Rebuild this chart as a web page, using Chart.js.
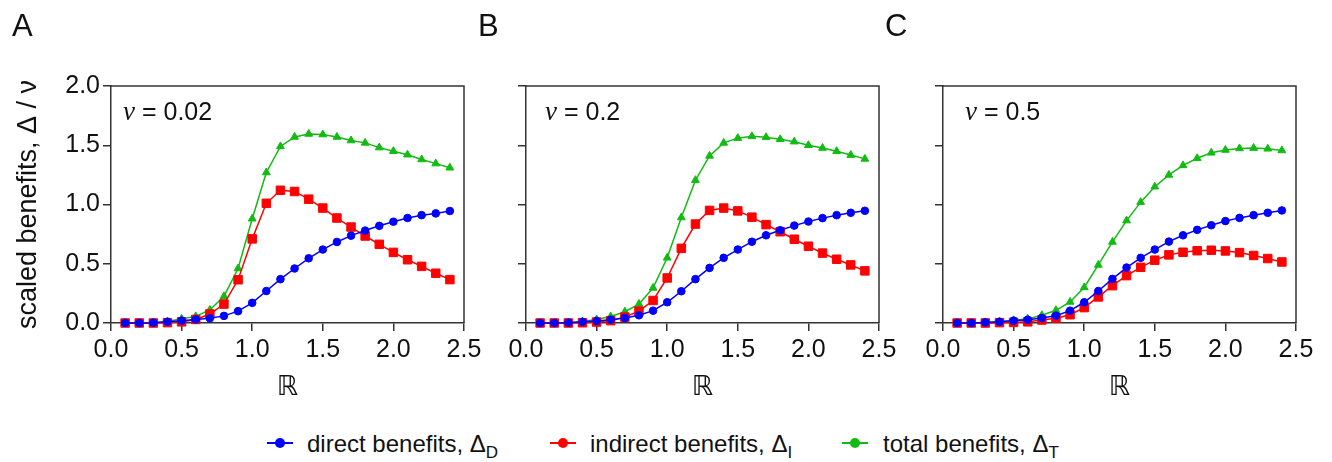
<!DOCTYPE html>
<html>
<head>
<meta charset="utf-8">
<script src="https://cdn.jsdelivr.net/npm/chart.js@4.4.0/dist/chart.umd.min.js"></script>
<style>
  body { margin: 0; width: 1332px; height: 462px; background: #fff; position: relative; overflow: hidden;
         font-family: "Liberation Sans", Arial, sans-serif; color: #111; }
  .panel { position: absolute; top: 0; }
  .letter { position: absolute; top: 10px; font-size: 31px; line-height: 31px; }
  .nu { position: absolute; top: 99px; font-size: 25px; line-height: 25px; white-space: nowrap; }
  .nu i { font-family: "Liberation Serif", serif; font-size: 27px; }
  .leg { position: absolute; top: 432px; font-size: 24px; line-height: 24px; white-space: nowrap; }
  .leg sub { font-size: 17px; vertical-align: -6px; line-height: 0; }
  .sw { position: absolute; top: 442px; width: 26px; height: 2px; }
  .sw::after { content: ""; position: absolute; left: 8px; top: -4px; width: 10px; height: 10px; border-radius: 50%; background: inherit; }
</style>
</head>
<body>
<canvas id="chartA" class="panel" style="left:0px" width="489" height="420"></canvas>
<canvas id="chartB" class="panel" style="left:415px" width="489" height="420"></canvas>
<canvas id="chartC" class="panel" style="left:832px" width="489" height="420"></canvas>

<div class="letter" style="left:12px">A</div>
<div class="letter" style="left:478px">B</div>
<div class="letter" style="left:885px">C</div>

<div class="nu" style="left:123px"><i>ν</i> = 0.02</div>
<div class="nu" style="left:545px"><i>ν</i> = 0.2</div>
<div class="nu" style="left:965px"><i>ν</i> = 0.5</div>

<div class="sw" style="left:267px;background:#0000ff"></div>
<div class="leg" style="left:307px">direct benefits, Δ<sub>D</sub></div>
<div class="sw" style="left:550px;background:#ff0000"></div>
<div class="leg" style="left:590px">indirect benefits, Δ<sub>I</sub></div>
<div class="sw" style="left:842px;background:#11bb11"></div>
<div class="leg" style="left:883px">total benefits, Δ<sub>T</sub></div>

<script>
// valores de R (eje x)
const rValues = [0.1, 0.2, 0.3, 0.4, 0.5, 0.6, 0.7, 0.8, 0.9, 1.0, 1.1, 1.2,
                 1.3, 1.4, 1.5, 1.6, 1.7, 1.8, 1.9, 2.0, 2.1, 2.2, 2.3, 2.4];

// panel A, nu = 0.02
const directA = [0, 0, 0.003, 0.01, 0.02, 0.03, 0.04, 0.06, 0.10, 0.17, 0.27, 0.37,
                 0.46, 0.546, 0.62, 0.684, 0.737, 0.78, 0.82, 0.855, 0.886, 0.91, 0.925, 0.945];
const indirectA = [0, 0, 0, 0.003, 0.01, 0.03, 0.076, 0.16, 0.365, 0.71, 1.01, 1.12,
                   1.11, 1.045, 0.97, 0.886, 0.81, 0.734, 0.664, 0.596, 0.534, 0.478, 0.42, 0.366];
const totalA = [0, 0, 0.003, 0.012, 0.035, 0.056, 0.11, 0.225, 0.46, 0.88, 1.27, 1.49,
                1.57, 1.595, 1.59, 1.57, 1.54, 1.52, 1.48, 1.45, 1.42, 1.38, 1.345, 1.31];

// panel B, nu = 0.2
const directB = [0, 0, 0.003, 0.01, 0.017, 0.028, 0.042, 0.065, 0.104, 0.175, 0.268, 0.37,
                 0.465, 0.55, 0.62, 0.686, 0.74, 0.783, 0.822, 0.856, 0.885, 0.91, 0.93, 0.947];
const indirectB = [0, 0, 0, 0.002, 0.008, 0.02, 0.05, 0.10, 0.19, 0.38, 0.63, 0.835,
                   0.95, 0.97, 0.946, 0.893, 0.83, 0.77, 0.707, 0.648, 0.59, 0.538, 0.49, 0.44];
const totalB = [0, 0, 0.003, 0.012, 0.03, 0.055, 0.095, 0.16, 0.296, 0.55, 0.89, 1.205,
                1.41, 1.52, 1.56, 1.575, 1.567, 1.55, 1.53, 1.50, 1.477, 1.45, 1.417, 1.385];

// panel C, nu = 0.5
const directC = [0, 0, 0.005, 0.01, 0.02, 0.028, 0.042, 0.062, 0.104, 0.175, 0.27, 0.372,
                 0.468, 0.55, 0.62, 0.687, 0.74, 0.786, 0.825, 0.86, 0.887, 0.91, 0.93, 0.95];
const indirectC = [0, 0, 0, 0.003, 0.005, 0.01, 0.025, 0.04, 0.07, 0.13, 0.22, 0.315,
                   0.40, 0.47, 0.53, 0.575, 0.597, 0.61, 0.614, 0.608, 0.594, 0.57, 0.544, 0.515];
const totalC = [0, 0, 0.005, 0.012, 0.022, 0.035, 0.065, 0.107, 0.178, 0.30, 0.49, 0.684,
                0.864, 1.02, 1.15, 1.25, 1.33, 1.39, 1.436, 1.46, 1.473, 1.476, 1.47, 1.456];

const FONT = "'Liberation Sans', 'DejaVu Sans', Arial, sans-serif";
const AXIS = "#333";

// marco completo alrededor del area del grafico
const boxPlugin = {
  id: "box",
  beforeDatasetsDraw(chart) {
    const { ctx, chartArea: a } = chart;
    ctx.save();
    ctx.strokeStyle = AXIS;
    ctx.lineWidth = 1.5;
    ctx.beginPath();
    ctx.moveTo(a.left, a.top);
    ctx.lineTo(a.right, a.top);
    ctx.lineTo(a.right, a.bottom);
    ctx.stroke();
    ctx.restore();
  },
};

function series(values, color, style, radius) {
  return {
    data: rValues.map((r, i) => ({ x: r, y: values[i] })),
    borderColor: color,
    backgroundColor: color,
    borderWidth: 1.5,
    pointStyle: style,
    pointRadius: radius,
    pointBorderWidth: 1,
    tension: 0,
    clip: false,
  };
}

function makePanel(id, direct, indirect, total, showY) {
  new Chart(document.getElementById(id), {
    type: "line",
    data: {
      datasets: [
        series(direct, "#0000ff", "circle", 3.8),
        series(indirect, "#ff0000", "rect", 6),
        series(total, "#11bb11", "triangle", 4.5),
      ],
    },
    options: {
      responsive: false,
      animation: false,
      layout: { padding: { top: 86, right: 25, bottom: 0, left: 0 } },
      plugins: { legend: { display: false }, tooltip: { enabled: false } },
      scales: {
        x: {
          type: "linear",
          min: 0,
          max: 2.5,
          afterFit: (s) => { s.height = 97; },
          ticks: {
            stepSize: 0.5,
            padding: 4,
            color: "#111",
            font: { family: FONT, size: 25 },
            callback: (v) => v.toFixed(1),
          },
          grid: { drawOnChartArea: false, tickLength: 8, color: AXIS, lineWidth: 1.5 },
          border: { color: AXIS, width: 1.5 },
          title: {
            display: true,
            text: "ℝ",
            color: "#111",
            font: { family: FONT, size: 27 },
            padding: { top: 0, bottom: 16 },
          },
        },
        y: {
          min: 0,
          max: 2,
          afterFit: (s) => { s.width = 111; },
          ticks: {
            stepSize: 0.5,
            padding: 3,
            color: "#111",
            font: { family: FONT, size: 25 },
            callback: (v) => (showY ? v.toFixed(1) : ""),
          },
          grid: { drawOnChartArea: false, tickLength: 8, color: AXIS, lineWidth: 1.5 },
          border: { color: AXIS, width: 1.5 },
          title: {
            display: showY,
            text: "scaled benefits, Δ / ν",
            color: "#111",
            font: { family: FONT, size: 27 },
            padding: { top: 12, bottom: 0 },
          },
        },
      },
    },
    plugins: [boxPlugin],
  });
}

makePanel("chartA", directA, indirectA, totalA, true);
makePanel("chartB", directB, indirectB, totalB, false);
makePanel("chartC", directC, indirectC, totalC, false);
</script>
</body>
</html>
